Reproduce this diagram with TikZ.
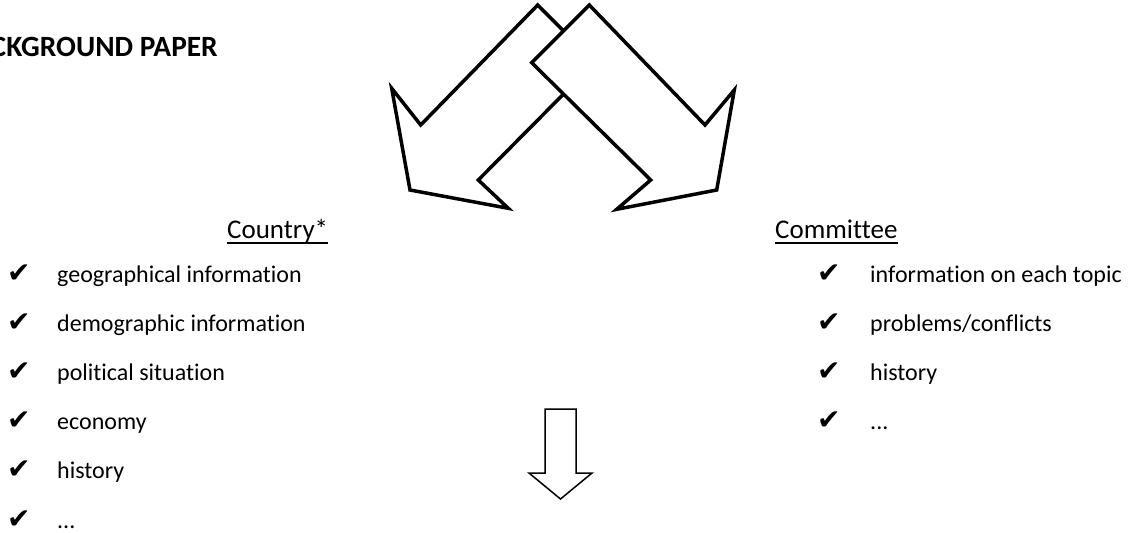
\documentclass[tikz,border=0pt]{standalone}
\usepackage{fontspec}
\setmainfont[Ligatures=NoCommon]{Carlito}
\newfontfamily\tickfont{DejaVu Sans}
\usetikzlibrary{positioning}

\begin{document}
\begin{tikzpicture}[
  x=1pt, y=-1pt,
  item/.style={inner sep=0pt, anchor=base west, font=\fontsize{24}{28}\selectfont},
  tick/.style={inner sep=0pt, anchor=base west, font=\tickfont\fontsize{28}{32}\selectfont},
  heading/.style={inner sep=0pt, anchor=base west, font=\fontsize{27}{31}\selectfont},
  bigarrow/.style={draw, line width=3.5pt, fill=white, line join=miter},
  downarrow/.style={draw, line width=1.5pt, fill=white, line join=miter}
  ]
\useasboundingbox (0,0) rectangle (1133,533);

% Title
\node[inner sep=0pt, anchor=base east, font=\bfseries\fontsize{29.4}{34}\selectfont]
  (title) at (218,56) {BACKGROUND PAPER};

% Split arrows
\draw[bigarrow] (537.7,5) -- (595,62.3) -- (478.3,180) -- (508.3,208.3)
  -- (410,190) -- (391.7,88.3) -- (420.7,125) -- cycle;
\draw[bigarrow] (589.3,5) -- (705,125) -- (734.3,90) -- (716.7,190)
  -- (616.7,209.3) -- (650.7,180) -- (531.7,62.7) -- cycle;

% Headings
\node[heading] (country) at (227,238) {Country*};
\draw[line width=1.5pt] ([shift={(0,5)}]country.base west) -- ([shift={(0,5)}]country.base east);
\node[heading] (committee) at (775,238) {Committee};
\draw[line width=1.5pt] ([shift={(0,5)}]committee.base west) -- ([shift={(0,5)}]committee.base east);

% Country list
\foreach \txt [count=\i] in {geographical information, demographic information,
    political situation, economy, history} {
  \node[tick] (ltick\i) at (7,232.8+49.2*\i) {\char"2714};
  \node[item] (litem\i) at (57,232.8+49.2*\i) {\txt};
}
\node[tick] (ltick6) at (7,528) {\char"2714};
\node[item] (litem6) at (57,528) {...};

% Committee list
\foreach \txt [count=\i] in {information on each topic, problems/conflicts, history} {
  \node[tick] (rtick\i) at (817,232.8+49.2*\i) {\char"2714};
  \node[item] (ritem\i) at (870,232.8+49.2*\i) {\txt};
}
\node[tick] (rtick4) at (817,429.6) {\char"2714};
\node[item] (ritem4) at (870,429.6) {...};

% Down arrow
\draw[downarrow] (545,409) -- (576,409) -- (576,473) -- (592,473)
  -- (560.5,499) -- (529,473) -- (545,473) -- cycle;

\end{tikzpicture}
\end{document}
